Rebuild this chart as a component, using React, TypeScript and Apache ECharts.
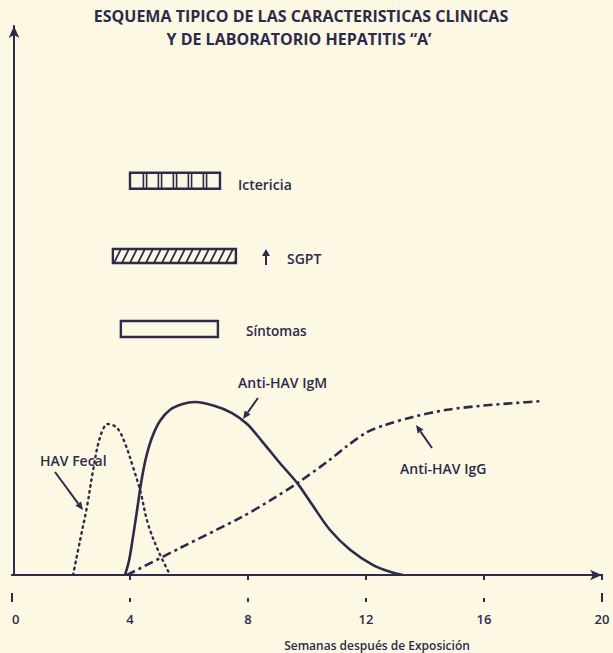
import React, { useEffect, useRef } from "react";
import * as echarts from "echarts";

// ---- data ----
const weekTicks = [0, 4, 8, 12, 16, 20];

const fecalWeeks = [2.07, 2.31, 2.54, 2.75, 2.98, 3.25, 3.56, 3.83, 4.1, 4.34, 4.6, 4.95, 5.36];
const fecalLevel = [0, 6.4, 12.4, 19.1, 25.0, 27.5, 26.8, 24.0, 19.7, 15.5, 9.5, 4.5, 0];

const igmWeeks = [3.83, 3.97, 4.1, 4.24, 4.37, 4.54, 4.75, 5.02, 5.36, 5.76, 6.2, 6.88, 7.46, 7.97, 8.47, 9.08, 9.69, 10.2, 10.78, 11.46, 12.24, 12.92, 13.25];
const igmLevel = [0, 2.7, 6.9, 11.8, 16.6, 21.3, 25.1, 28.1, 30.1, 31.1, 31.5, 30.8, 29.5, 27.5, 24.4, 20.4, 16.6, 12.6, 8.2, 4.6, 1.8, 0.4, 0];

const iggWeeks = [3.9, 5.69, 7.73, 8.85, 9.69, 10.68, 11.36, 12.03, 12.64, 13.59, 14.75, 15.86, 16.98, 18.0];
const iggLevel = [0, 4.9, 10.4, 13.9, 16.8, 20.6, 23.5, 26.0, 27.3, 28.8, 30.1, 30.8, 31.3, 31.7];

const bandNames = ["Ictericia", "SGPT", "Síntomas"];
const bandStart = [4.0, 3.42, 3.69];
const bandEnd = [7.05, 7.59, 6.98];
const bandLevel = [71.8, 58.1, 44.8];

const titleLines = ["ESQUEMA TIPICO DE LAS CARACTERISTICAS CLINICAS", "Y DE LABORATORIO HEPATITIS “A’"];

// ---- style ----
const INK = "#2d2a4a";
const BG = "#fcf8e4";
const FONT = '"Open Sans", "DejaVu Sans", sans-serif';
const BAR_H = [16, 14, 16];

function pairs(xs: number[], ys: number[]) {
  return xs.map((x, i) => [x, ys[i]]);
}

function arrow(x1: number, y1: number, x2: number, y2: number) {
  const ang = Math.atan2(y2 - y1, x2 - x1);
  const L = 8;
  const W = 3.5;
  const bx = x2 - L * Math.cos(ang);
  const by = y2 - L * Math.sin(ang);
  const px = -Math.sin(ang) * W;
  const py = Math.cos(ang) * W;
  return {
    type: "group",
    children: [
      { type: "line", shape: { x1, y1, x2: bx, y2: by }, style: { stroke: INK, lineWidth: 2 } },
      {
        type: "polygon",
        shape: { points: [[x2, y2], [bx + px, by + py], [bx - px, by - py]] },
        style: { fill: INK },
      },
    ],
  };
}

function label(text: string, x: number, y: number, size = 14, align = "left", extra: any = {}) {
  return {
    type: "text",
    x,
    y,
    style: {
      text,
      fill: INK,
      fontFamily: FONT,
      fontSize: size,
      fontWeight: 600,
      align,
      verticalAlign: "middle",
      ...extra,
    },
  };
}

export default function App() {
  const ref = useRef<HTMLDivElement>(null);

  useEffect(() => {
    document.body.style.margin = "0";
    document.body.style.background = BG;
    const chart = echarts.init(ref.current!, null, { renderer: "svg" });

    const axisBase = {
      type: "value",
      min: 0,
      max: 20,
      interval: 4,
      position: "bottom",
      splitLine: { show: false },
    };

    const option: any = {
      animation: false,
      backgroundColor: BG,
      grid: { left: 12, right: 11, top: 26, bottom: 78 },
      xAxis: [
        {
          ...axisBase,
          offset: 27,
          axisLine: { show: true, lineStyle: { color: INK, width: 2 } },
          axisTick: { show: true, inside: false, length: 5, lineStyle: { color: INK, width: 2 }, customValues: [4, 8, 12, 16, 20] },
          axisLabel: {
            show: true,
            color: INK,
            fontFamily: FONT,
            fontSize: 13,
            fontWeight: 600,
            margin: 10,
            customValues: weekTicks,
            alignMinLabel: "left",
          },
        },
        {
          ...axisBase,
          offset: 0,
          axisLine: {
            show: true,
            symbol: ["none", "arrow"],
            symbolSize: [8, 12],
            lineStyle: { color: INK, width: 2 },
          },
          axisTick: { show: false },
          axisLabel: { show: false },
        },
        {
          ...axisBase,
          offset: 27,
          axisLine: { show: false },
          axisTick: { show: true, inside: true, length: 4, lineStyle: { color: INK, width: 2 }, customValues: [4, 8, 12, 16] },
          axisLabel: { show: false },
        },
        {
          ...axisBase,
          offset: 27,
          axisLine: { show: false },
          axisTick: { show: true, inside: true, length: 9, lineStyle: { color: INK, width: 2 }, customValues: [0, 20] },
          axisLabel: { show: false },
        },
      ],
      yAxis: {
        type: "value",
        min: 0,
        max: 100,
        offset: -2,
        axisLine: {
          show: true,
          symbol: ["none", "arrow"],
          symbolSize: [8, 12],
          lineStyle: { color: INK, width: 2 },
        },
        axisTick: { show: false },
        axisLabel: { show: false },
        splitLine: { show: false },
      },
      series: [
        {
          name: "HAV Fecal",
          type: "line",
          xAxisIndex: 0,
          data: pairs(fecalWeeks, fecalLevel),
          smooth: 0.35,
          showSymbol: false,
          lineStyle: { color: INK, width: 2.4, type: [1.5, 4.5], cap: "round" },
        },
        {
          name: "Anti-HAV IgM",
          type: "line",
          xAxisIndex: 0,
          data: pairs(igmWeeks, igmLevel),
          smooth: 0.3,
          showSymbol: false,
          lineStyle: { color: INK, width: 2.6 },
        },
        {
          name: "Anti-HAV IgG",
          type: "line",
          xAxisIndex: 0,
          data: pairs(iggWeeks, iggLevel),
          smooth: 0.3,
          showSymbol: false,
          lineStyle: { color: INK, width: 2.6, type: [9, 4, 3, 4] },
        },
        {
          name: "bands",
          type: "custom",
          xAxisIndex: 0,
          clip: false,
          encode: { x: [0, 1], y: 2 },
          data: bandNames.map((_, i) => [bandStart[i], bandEnd[i], bandLevel[i]]),
          renderItem: (params: any, api: any) => {
            const i = params.dataIndex;
            const p0 = api.coord([api.value(0), api.value(2)]);
            const p1 = api.coord([api.value(1), api.value(2)]);
            const h = BAR_H[i];
            const x0 = p0[0];
            const x1 = p1[0];
            const yt = p0[1] - h / 2;
            const yb = p0[1] + h / 2;
            const children: any[] = [];
            if (i === 0) {
              const n = 6;
              const w = (x1 - x0) / n;
              for (let k = 1; k < n; k++) {
                const xm = x0 + k * w;
                [-1.6, 1.6].forEach((d) =>
                  children.push({
                    type: "line",
                    shape: { x1: xm + d, y1: yt, x2: xm + d, y2: yb },
                    style: { stroke: INK, lineWidth: 1.6 },
                  })
                );
              }
            } else if (i === 1) {
              const s = 8;
              const run = 7;
              for (let xb = x0 - run; xb < x1; xb += s) {
                const xt = xb + run;
                const c0 = Math.max(xb, x0 + 1);
                const c1 = Math.min(xt, x1 - 1);
                if (c1 <= c0) continue;
                const f = (x: number) => yb - ((x - xb) * h) / run;
                children.push({
                  type: "line",
                  shape: { x1: c0, y1: f(c0), x2: c1, y2: f(c1) },
                  style: { stroke: INK, lineWidth: 1.8 },
                });
              }
            }
            children.push({
              type: "rect",
              shape: { x: x0, y: yt, width: x1 - x0, height: h },
              style: { fill: "rgba(0,0,0,0)", stroke: INK, lineWidth: 2.4 },
            });
            return { type: "group", children };
          },
        },
      ],
      graphic: [
        label(titleLines[0], 301, 16, 16, "center", { fontWeight: 700 }),
        label(titleLines[1], 299, 38.5, 16, "center", { fontWeight: 700 }),
        label("Ictericia", 238, 184),
        {
          type: "group",
          children: [
            { type: "line", shape: { x1: 266, y1: 265, x2: 266, y2: 254 }, style: { stroke: INK, lineWidth: 2 } },
            { type: "polygon", shape: { points: [[262, 256], [266, 249], [270, 256]] }, style: { fill: INK } },
          ],
        },
        label("SGPT", 287, 258),
        label("Síntomas", 246, 331, 13.5),
        label("Anti-HAV IgM", 238, 382),
        label("HAV Fecal", 40, 460),
        label("Anti-HAV IgG", 400, 468),
        label("Semanas después de Exposición", 377, 645, 12, "center"),
        arrow(258, 398, 243, 419),
        arrow(55, 472, 83, 510),
        arrow(432, 448, 416, 425),
      ],
    };

    chart.setOption(option);
    return () => chart.dispose();
  }, []);

  return (
    <div
      ref={ref}
      style={{ position: "absolute", left: 0, top: 0, width: 613, height: 653, background: BG }}
    />
  );
}
